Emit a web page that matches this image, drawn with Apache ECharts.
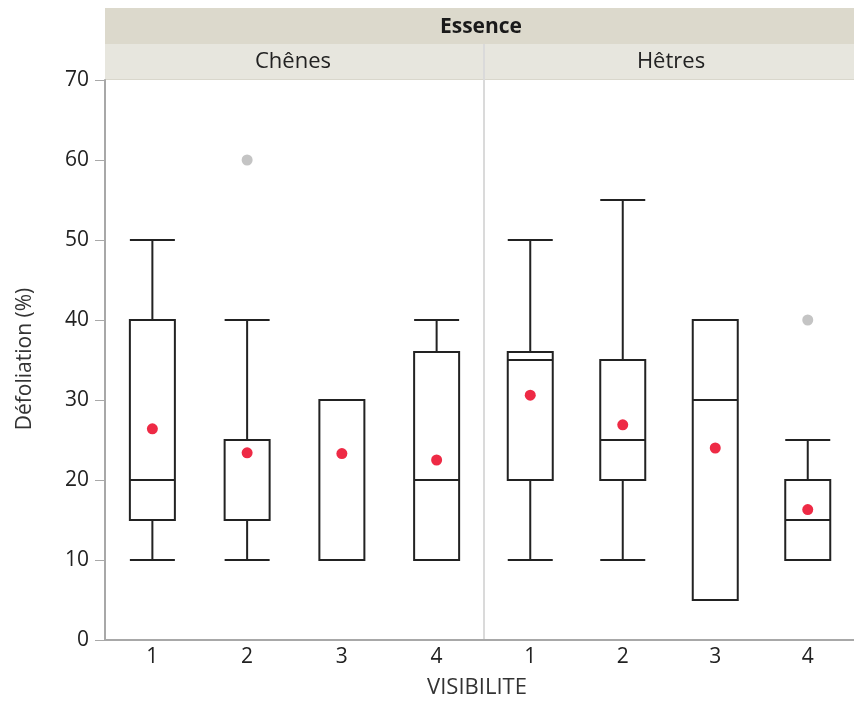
<!DOCTYPE html>
<html>
<head>
<meta charset="utf-8">
<script src="https://cdn.jsdelivr.net/npm/echarts@6/dist/echarts.min.js"></script>
<style>
  html, body { margin: 0; padding: 0; background: #fff; }
  #chart { width: 854px; height: 702px; }
</style>
</head>
<body>
<div id="chart"></div>
<script>
// Défoliation (%) by visibility class, one panel per tree species
const categories = ['1', '2', '3', '4'];
const panels = ['Chênes', 'Hêtres'];
const yTicks = [0, 10, 20, 30, 40, 50, 60, 70];

// [min whisker, Q1, median, Q3, max whisker]
const boxChenes = [
  [10, 15, 20, 40, 50],
  [10, 15, 25, 25, 40],
  [10, 10, 30, 30, 30],
  [10, 10, 20, 36, 40]
];
const boxHetres = [
  [10, 20, 35, 36, 50],
  [10, 20, 25, 35, 55],
  [5, 5, 30, 40, 40],
  [10, 10, 15, 20, 25]
];
const meanChenes = [26.4, 23.4, 23.3, 22.5];
const meanHetres = [30.6, 26.9, 24.0, 16.3];
// [category, value]
const outChenes = [['2', 60]];
const outHetres = [['4', 40]];

const FONT = '"Open Sans", "Noto Sans", sans-serif';
const AXIS_GREY = '#a8a8a8';
const TEXT = '#222222';
const FS = 21;

const chart = echarts.init(document.getElementById('chart'), null, { renderer: 'canvas' });

function xAxis(gridIndex) {
  return {
    type: 'category', gridIndex, data: categories,
    axisLine: { lineStyle: { color: AXIS_GREY, width: 2 } },
    axisTick: { show: false },
    axisLabel: { color: TEXT, fontFamily: FONT, fontSize: FS, margin: 7 },
    splitLine: { show: false }
  };
}
function yAxis(gridIndex, visible) {
  return {
    type: 'value', gridIndex, min: yTicks[0], max: yTicks[yTicks.length - 1], interval: 10,
    show: visible,
    axisLine: { show: true, lineStyle: { color: AXIS_GREY, width: 2 } },
    axisTick: { show: true, length: 10, lineStyle: { color: AXIS_GREY, width: 1 } },
    axisLabel: { color: TEXT, fontFamily: FONT, fontSize: FS, margin: 16 },
    splitLine: { show: false }
  };
}
function boxSeries(idx, data) {
  return {
    type: 'boxplot', xAxisIndex: idx, yAxisIndex: idx, data,
    boxWidth: [45, 45],
    itemStyle: { color: 'transparent', borderColor: '#222', borderWidth: 2 },
    emphasis: { disabled: true },
    z: 2
  };
}
function dotSeries(idx, data, color) {
  return {
    type: 'scatter', xAxisIndex: idx, yAxisIndex: idx, data,
    symbolSize: 11, itemStyle: { color, opacity: 1 }, z: 5
  };
}

chart.setOption({
  animation: false,
  backgroundColor: '#ffffff',
  grid: [
    { left: 105, top: 80, width: 379, height: 560 },
    { left: 484, top: 80, width: 378, height: 560 }
  ],
  xAxis: [xAxis(0), xAxis(1)],
  yAxis: [yAxis(0, true), yAxis(1, false)],
  graphic: [
    { type: 'rect', shape: { x: 105, y: 8, width: 760, height: 36 }, style: { fill: '#dcd9cc' }, silent: true },
    { type: 'rect', shape: { x: 105, y: 44, width: 760, height: 35 }, style: { fill: '#e7e6de' }, silent: true },
    { type: 'line', shape: { x1: 105, y1: 79.5, x2: 865, y2: 79.5 }, style: { stroke: '#d9d7cc', lineWidth: 1 }, silent: true },
    { type: 'line', shape: { x1: 484, y1: 44, x2: 484, y2: 639 }, style: { stroke: '#dadada', lineWidth: 2 }, silent: true },
    { type: 'text', x: 481, y: 27, style: { text: 'Essence', fontFamily: FONT, fontWeight: 'bold', fontSize: FS, fill: '#1a1a1a', align: 'center', verticalAlign: 'middle' }, silent: true },
    { type: 'text', x: 293, y: 62, style: { text: panels[0], fontFamily: FONT, fontSize: 22, fill: TEXT, align: 'center', verticalAlign: 'middle' }, silent: true },
    { type: 'text', x: 671, y: 62, style: { text: panels[1], fontFamily: FONT, fontSize: 22, fill: TEXT, align: 'center', verticalAlign: 'middle' }, silent: true },
    { type: 'text', x: 477, y: 688, style: { text: 'VISIBILITE', fontFamily: FONT, fontSize: 22, fill: '#333', align: 'center', verticalAlign: 'middle' }, silent: true },
    { type: 'text', x: 25, y: 359, rotation: Math.PI / 2, style: { text: 'Défoliation (%)', fontFamily: FONT, fontSize: 21, fill: '#333', align: 'center', verticalAlign: 'middle' }, silent: true }
  ],
  series: [
    boxSeries(0, boxChenes),
    boxSeries(1, boxHetres),
    dotSeries(0, categories.map((c, i) => [c, meanChenes[i]]), '#ee2a45'),
    dotSeries(1, categories.map((c, i) => [c, meanHetres[i]]), '#ee2a45'),
    dotSeries(0, outChenes, '#c4c4c4'),
    dotSeries(1, outHetres, '#c4c4c4')
  ]
});
</script>
</body>
</html>
